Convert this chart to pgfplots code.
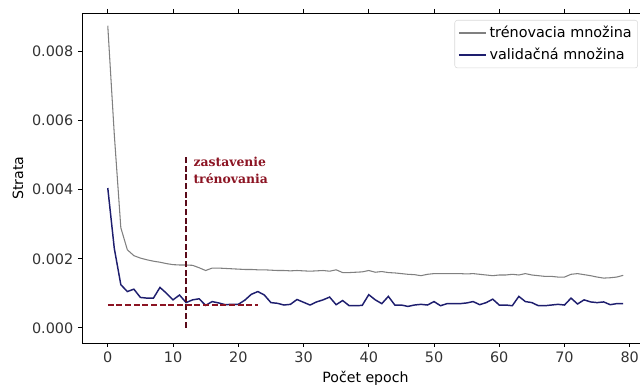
\documentclass[border=0pt]{standalone}
\usepackage{pgfplots}
\pgfplotsset{compat=1.18}
\usepackage{pgfplotstable}
\usepackage{fontspec}
\setmainfont{DejaVu Sans}
\newfontfamily\serifb{DejaVu Serif}
\definecolor{trgray}{RGB}{128,128,128}
\definecolor{valnavy}{RGB}{30,30,110}
\definecolor{stopred}{RGB}{140,20,35}
\definecolor{stopdark}{RGB}{90,10,25}

\pgfplotstableread{
e v
0 0.00875
1 0.0056
2 0.0029
3 0.00226
4 0.00209
5 0.00202
6 0.00197
7 0.00193
8 0.00190
9 0.00186
10 0.00183
11 0.00182
12 0.00182
13 0.00181
14 0.00174
15 0.00166
16 0.00173
17 0.00173
18 0.00172
19 0.00171
20 0.00170
21 0.00169
22 0.00169
23 0.00168
24 0.00168
25 0.00167
26 0.00166
27 0.00166
28 0.00165
29 0.00166
30 0.00165
31 0.00164
32 0.00165
33 0.00166
34 0.00164
35 0.00168
36 0.00160
37 0.00160
38 0.00161
39 0.00162
40 0.00166
41 0.00161
42 0.00163
43 0.00160
44 0.00159
45 0.00157
46 0.00155
47 0.00154
48 0.00151
49 0.00155
50 0.00157
51 0.00157
52 0.00157
53 0.00157
54 0.00157
55 0.00156
56 0.00157
57 0.00155
58 0.00153
59 0.00151
60 0.00153
61 0.00153
62 0.00155
63 0.00153
64 0.00157
65 0.00153
66 0.00151
67 0.00149
68 0.00149
69 0.00147
70 0.00147
71 0.00155
72 0.00157
73 0.00154
74 0.00151
75 0.00147
76 0.00144
77 0.00145
78 0.00147
79 0.00152
}\train

\pgfplotstableread{
e v
0 0.00405
1 0.0023
2 0.00125
3 0.00105
4 0.00112
5 0.00088
6 0.00086
7 0.00086
8 0.00117
9 0.00100
10 0.00081
11 0.00095
12 0.00073
13 0.00081
14 0.00084
15 0.00065
16 0.00076
17 0.00072
18 0.00067
19 0.00068
20 0.00068
21 0.00080
22 0.00097
23 0.00105
24 0.00095
25 0.00073
26 0.00071
27 0.00066
28 0.00068
29 0.00082
30 0.00074
31 0.00066
32 0.00075
33 0.00081
34 0.00089
35 0.00067
36 0.00079
37 0.00064
38 0.00064
39 0.00065
40 0.00096
41 0.00081
42 0.00070
43 0.00091
44 0.00066
45 0.00066
46 0.00062
47 0.00066
48 0.00068
49 0.00066
50 0.00076
51 0.00064
52 0.00070
53 0.00070
54 0.00070
55 0.00072
56 0.00076
57 0.00067
58 0.00073
59 0.00083
60 0.00066
61 0.00066
62 0.00064
63 0.00091
64 0.00076
65 0.00073
66 0.00064
67 0.00064
68 0.00066
69 0.00068
70 0.00066
71 0.00086
72 0.00069
73 0.00081
74 0.00075
75 0.00073
76 0.00075
77 0.00067
78 0.00070
79 0.00070
}\valid

\pgfplotstableread{
e v
12 0.0
12 0.0050
}\vline

\pgfplotstableread{
e v
0 0.00066
23 0.00066
}\hline

\begin{document}
\begin{tikzpicture}
\begin{axis}[
  at={(0,0)}, anchor=south west,
  scale only axis,
  width=425.25pt, height=247.5pt,
  xmin=-3.95, xmax=82.95,
  ymin=-0.00044, ymax=0.00912,
  axis x line*=box, axis y line*=left,
  axis line style={line width=0.6pt},
  tick align=outside,
  major tick length=3pt,
  tick style={black, line width=0.6pt},
  xtick={0,10,...,80},
  ytick={0,0.002,0.004,0.006,0.008},
  scaled y ticks=false,
  yticklabel style={/pgf/number format/.cd, fixed, fixed zerofill, precision=3},
  /pgf/number format/assume math mode=true,
  ticklabel style={font=\fontsize{10.8}{12}\selectfont, text=black!80},
  xlabel={Počet epoch},
  ylabel={Strata},
  label style={font=\fontsize{10.6}{12}\selectfont},
  xlabel style={at={(axis description cs:0.5,-0.106)}, anchor=center},
  ylabel style={at={(axis description cs:-0.113,0.5)}, anchor=center},
  legend style={
    at={(rel axis cs:1,1)}, anchor=north east, xshift=-8.25pt, yshift=-5.25pt,
    draw=black!15, rounded corners=2pt, fill=white,
    font=\fontsize{10.8}{13}\selectfont,
    row sep=2.5pt, inner sep=2.5pt},
  legend cell align=left,
  legend image code/.code={\draw[#1] (0cm,0cm) -- (0.72cm,0cm);},
]
\addplot[trgray, line width=0.8pt] table[x=e,y=v] {\train};
\addlegendentry{trénovacia množina}
\addplot[valnavy, line width=1.1pt] table[x=e,y=v] {\valid};
\addlegendentry{validačná množina}
\addplot[stopdark, line width=1.1pt, dash pattern=on 4.5pt off 2pt, forget plot] table[x=e,y=v] {\vline};
\addplot[stopred, line width=1.1pt, dash pattern=on 4.5pt off 2pt, forget plot] table[x=e,y=v] {\hline};
\node[anchor=north west, inner sep=0pt, align=left, text=stopred,
  font=\serifb\bfseries\fontsize{9.3}{12.75}\selectfont]
  at (axis cs:13.1,0.00495) {zastavenie\\trénovania};
\end{axis}
\pgfresetboundingbox
\useasboundingbox (-61.5pt,-31.5pt) rectangle (418.5pt,257.25pt);
\end{tikzpicture}
\end{document}
